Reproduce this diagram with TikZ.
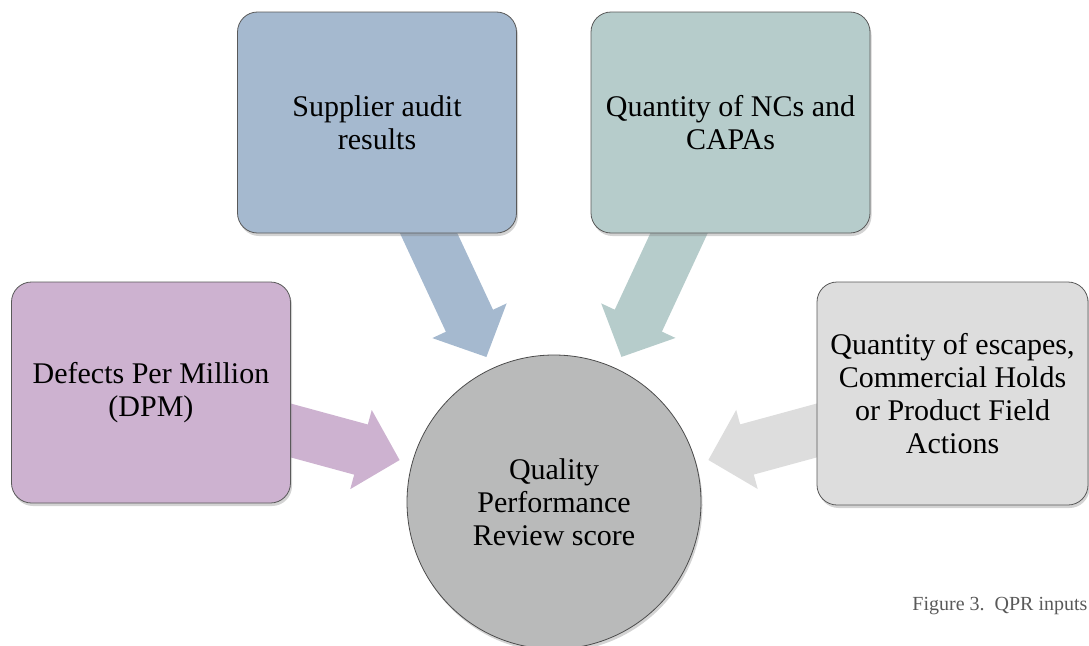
\documentclass[tikz,border=0pt]{standalone}
\usepackage{fontspec}
\setmainfont{Liberation Serif}
\usetikzlibrary{calc,shadows,backgrounds,positioning}

\definecolor{supcol}{HTML}{A5B9CF}
\definecolor{nccol}{HTML}{B6CCCB}
\definecolor{dpmcol}{HTML}{CDB2D0}
\definecolor{esccol}{HTML}{DDDDDD}
\definecolor{qprcol}{HTML}{B9BABA}
\definecolor{capgray}{HTML}{595959}

% block arrow from box #1 towards circle #2, colour #3
\newcommand{\fatarrow}[3]{%
	\coordinate (tip) at ($(#2.center)!160pt!(#1.center)$);
	\coordinate (base) at ($(tip)!40pt!(#1.center)$);
	\fill[#3] ($(#1.center)!26pt!90:(tip)$) -- ($(base)!26pt!-90:(#1.center)$)
		-- ($(base)!41pt!-90:(#1.center)$) -- (tip) -- ($(base)!41pt!90:(#1.center)$)
		-- ($(base)!26pt!90:(#1.center)$) -- ($(#1.center)!26pt!-90:(tip)$) -- cycle;
}

\tikzset{
	inbox/.style={draw=black!65, line width=0.8pt, rounded corners=20pt,
		minimum width=279pt, minimum height=221pt, align=center,
		text=black, font=\fontsize{30}{33}\selectfont,
		drop shadow={shadow xshift=1.5pt, shadow yshift=-3pt, opacity=.35}},
	qprnode/.style={circle, draw=black!70, line width=0.8pt, minimum size=294pt,
		align=center, text=black, font=\fontsize{30}{33}\selectfont,
		fill=qprcol, drop shadow={shadow xshift=1.5pt, shadow yshift=-3pt, opacity=.35}},
	caption/.style={text=capgray, font=\fontsize{20}{24}\selectfont}
}

\begin{document}
\begin{tikzpicture}[x=1pt, y=-1pt]
		%%%%% FRAME %%%%%
		\useasboundingbox (0, 0) rectangle (1089, 645);
		
		%%%%% NODES %%%%%
		\node[qprnode] (qpr) at (554, 502) {Quality\\Performance\\Review score};
		
		\node[inbox, fill=supcol] (sup) at (377, 122.5) {Supplier audit\\results};
		\node[inbox, fill=nccol] (nc) at (730.5, 122.5) {Quantity of NCs and\\CAPAs};
		\node[inbox, fill=dpmcol] (dpm) at (151, 392.5) {Defects Per Million\\(DPM)};
		\node[inbox, fill=esccol, minimum width=271pt, minimum height=223pt] (esc) at (952.5, 393.5)
			{Quantity of escapes,\\Commercial Holds\\or Product Field\\Actions};
		
		\node[caption, anchor=east] (cap) at (1091, 606) {Figure 3.\ \ QPR inputs};
		
		%%%%% ARROWS %%%%%
		\begin{scope}[on background layer]
			\fatarrow{sup}{qpr}{supcol}
			\fatarrow{nc}{qpr}{nccol}
			\fatarrow{dpm}{qpr}{dpmcol}
			\fatarrow{esc}{qpr}{esccol}
		\end{scope}
	\end{tikzpicture}
\end{document}
